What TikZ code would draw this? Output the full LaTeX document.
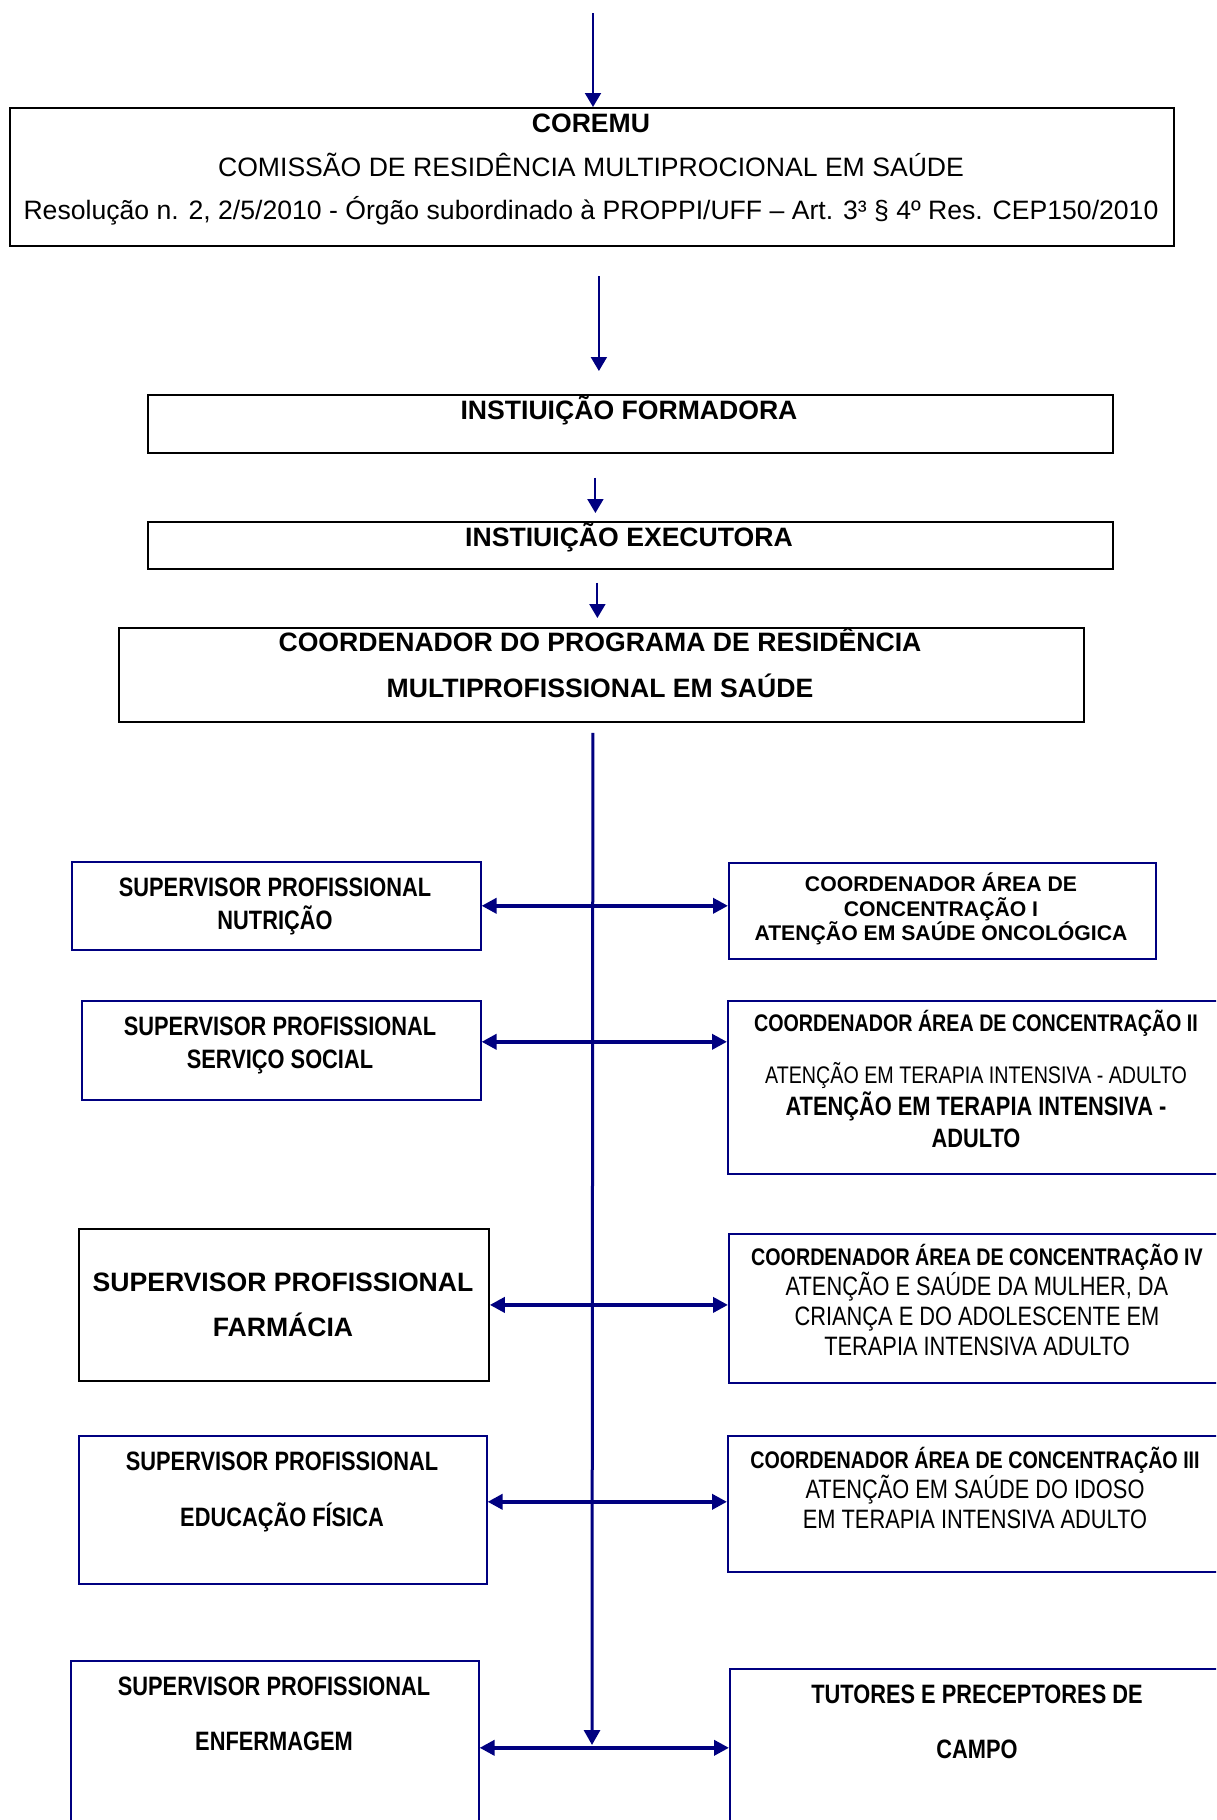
\documentclass[tikz,border=0pt]{standalone}
\usepackage{fontspec}
\setmainfont{Liberation Sans}
\newfontfamily\narrowfont{Liberation Sans}[FakeStretch=0.82]
\usepackage{tikz}
\usetikzlibrary{arrows.meta,calc}
\definecolor{navy}{RGB}{0,0,128}
\newcommand{\fsz}[2]{\fontsize{#1}{#2}\selectfont}

\begin{document}
\begin{tikzpicture}[x=0.5pt,y=-0.5pt,
    box/.style={rectangle,draw=black,line width=0.9pt,inner sep=0pt,anchor=north west},
    bbox/.style={rectangle,draw=navy,line width=0.8pt,inner sep=0pt,anchor=north west},
    lbl/.style={align=center,inner sep=0pt,anchor=base},
    arr/.style={-{Triangle[length=7pt,width=8pt]},line width=1pt,draw=navy,fill=navy},
    spine/.style={-{Triangle[length=7.5pt,width=8pt]},line width=1.5pt,draw=navy,fill=navy},
    harr/.style={{Triangle[length=7.5pt,width=7.5pt]}-{Triangle[length=7.5pt,width=7.5pt]},line width=2pt,draw=navy,fill=navy}]
\useasboundingbox (0,0) rectangle (1216,1820);
\clip (0,0) rectangle (1216,1820);
% caixas do topo
\node[box,minimum width=582pt,minimum height=69pt] (coremu) at (9,107) {};
\node[box,minimum width=482.5pt,minimum height=29pt] (fo) at (147,394) {};
\node[box,minimum width=482.5pt,minimum height=23.5pt] (ex) at (147,521) {};
\node[box,minimum width=482.5pt,minimum height=47pt] (coord) at (118,627) {};
% supervisores
\node[bbox,minimum width=204.5pt,minimum height=44pt] (nutr) at (71,861) {};
\node[bbox,minimum width=199.5pt,minimum height=49.5pt] (serv) at (81,1000) {};
\node[box,minimum width=205pt,minimum height=76pt] (farm) at (78,1228) {};
\node[bbox,minimum width=204pt,minimum height=74pt] (edf) at (78,1435) {};
\node[bbox,minimum width=204pt,minimum height=90pt] (enf) at (70,1660) {};
% coordenadores de area
\node[bbox,minimum width=213.5pt,minimum height=48pt] (c1) at (728,862) {};
\node[bbox,minimum width=250pt,minimum height=86.5pt] (c2) at (727,1000) {};
\node[bbox,minimum width=249.5pt,minimum height=74.5pt] (c4) at (728,1233) {};
\node[bbox,minimum width=250pt,minimum height=68pt] (c3) at (727,1435) {};
\node[bbox,minimum width=249pt,minimum height=86pt] (tut) at (729,1668) {};
% textos (base = ultima linha)
\node[lbl,font=\fsz{13.3}{21.75}] (coremu-t) at (591,219.5) {\bfseries COREMU\\
  COMISSÃO DE RESIDÊNCIA MULTIPROCIONAL EM SAÚDE\\
  Resolução n. 2, 2/5/2010 - Órgão subordinado à PROPPI/UFF – Art. 3³ § 4º Res. CEP150/2010};
\node[lbl,font=\fsz{13.3}{16}\bfseries] (fo-t) at (629,419.5) {INSTIUIÇÃO FORMADORA};
\node[lbl,font=\fsz{13.3}{16}\bfseries] (ex-t) at (629,546.5) {INSTIUIÇÃO EXECUTORA};
\node[lbl,font=\fsz{13.3}{23}\bfseries] (coord-t) at (600,697.5) {COORDENADOR DO PROGRAMA DE RESIDÊNCIA\\MULTIPROFISSIONAL EM SAÚDE};
\node[lbl,font=\narrowfont\fsz{13.3}{16.5}\bfseries] (nutr-t) at (275,929.5) {SUPERVISOR PROFISSIONAL\\NUTRIÇÃO};
\node[lbl,font=\narrowfont\fsz{13.3}{16.5}\bfseries] (serv-t) at (280,1068.5) {SUPERVISOR PROFISSIONAL\\SERVIÇO SOCIAL};
\node[lbl,font=\fsz{13.3}{22.5}\bfseries] (farm-t) at (283,1336.5) {SUPERVISOR PROFISSIONAL\\FARMÁCIA};
\node[lbl,font=\narrowfont\fsz{13.3}{28}\bfseries] (edf-t) at (282,1526.5) {SUPERVISOR PROFISSIONAL\\EDUCAÇÃO FÍSICA};
\node[lbl,font=\narrowfont\fsz{13.3}{27.5}\bfseries] (enf-t) at (274,1750.5) {SUPERVISOR PROFISSIONAL\\ENFERMAGEM};
\node[lbl,font=\fsz{10.6}{12.25}\bfseries] (c1-t) at (941,940.6) {COORDENADOR ÁREA DE\\CONCENTRAÇÃO I\\ATENÇÃO EM SAÚDE ONCOLÓGICA};
\node[lbl,font=\narrowfont\fsz{12}{16}] (c2-t) at (976,1147.5) {{\bfseries COORDENADOR ÁREA DE CONCENTRAÇÃO II}\\[10pt]
  ATENÇÃO EM TERAPIA INTENSIVA - ADULTO\\
  {\bfseries\fsz{13.3}{16}ATENÇÃO EM TERAPIA INTENSIVA -}\\
  {\bfseries\fsz{13.3}{16}ADULTO}};
\node[lbl,font=\narrowfont\fsz{13.3}{15}] (c4-t) at (977,1355.5) {{\bfseries\fsz{12}{15}COORDENADOR ÁREA DE CONCENTRAÇÃO IV}\\
  ATENÇÃO E SAÚDE DA MULHER, DA\\CRIANÇA E DO ADOLESCENTE EM\\TERAPIA INTENSIVA ADULTO};
\node[lbl,font=\narrowfont\fsz{13.3}{15}] (c3-t) at (975,1528.5) {{\bfseries\fsz{12}{15}COORDENADOR ÁREA DE CONCENTRAÇÃO III}\\
  ATENÇÃO EM SAÚDE DO IDOSO\\EM TERAPIA INTENSIVA ADULTO};
\node[lbl,font=\narrowfont\fsz{13.3}{27.5}\bfseries] (tut-t) at (977,1758.5) {TUTORES E PRECEPTORES DE\\CAMPO};
% setas verticais
\coordinate (in) at (593,13);
\coordinate (spine-end) at (592,1745);
\draw[arr] (in) -- (in |- coremu.north);
\draw[arr,shorten <=14.5pt,shorten >=11.5pt] ([xshift=3.5pt]coremu.south) -- ([xshift=3.5pt]coremu.south |- fo.north);
\draw[arr,shorten <=12pt,shorten >=4pt] ([xshift=-17.5pt]fo.south) -- ([xshift=-17.5pt]fo.south |- ex.north);
\draw[arr,shorten <=6.5pt,shorten >=4.5pt] ([xshift=-16.5pt]ex.south) -- ([xshift=-16.5pt]ex.south |- coord.north);
\draw[spine,shorten <=5pt] ([xshift=-4.25pt]coord.south) -- (spine-end);
% setas horizontais
\draw[harr] (nutr.east) -- (nutr.east -| c1.west);
\draw[harr] ([yshift=4.25pt]serv.east) -- ([yshift=4.25pt]serv.east -| c2.west);
\draw[harr] (farm.east) -- (farm.east -| c4.west);
\draw[harr] ([yshift=4pt]edf.east) -- ([yshift=4pt]edf.east -| c3.west);
\draw[harr] ([yshift=1.5pt]enf.east) -- ([yshift=1.5pt]enf.east -| tut.west);
\end{tikzpicture}
\end{document}
